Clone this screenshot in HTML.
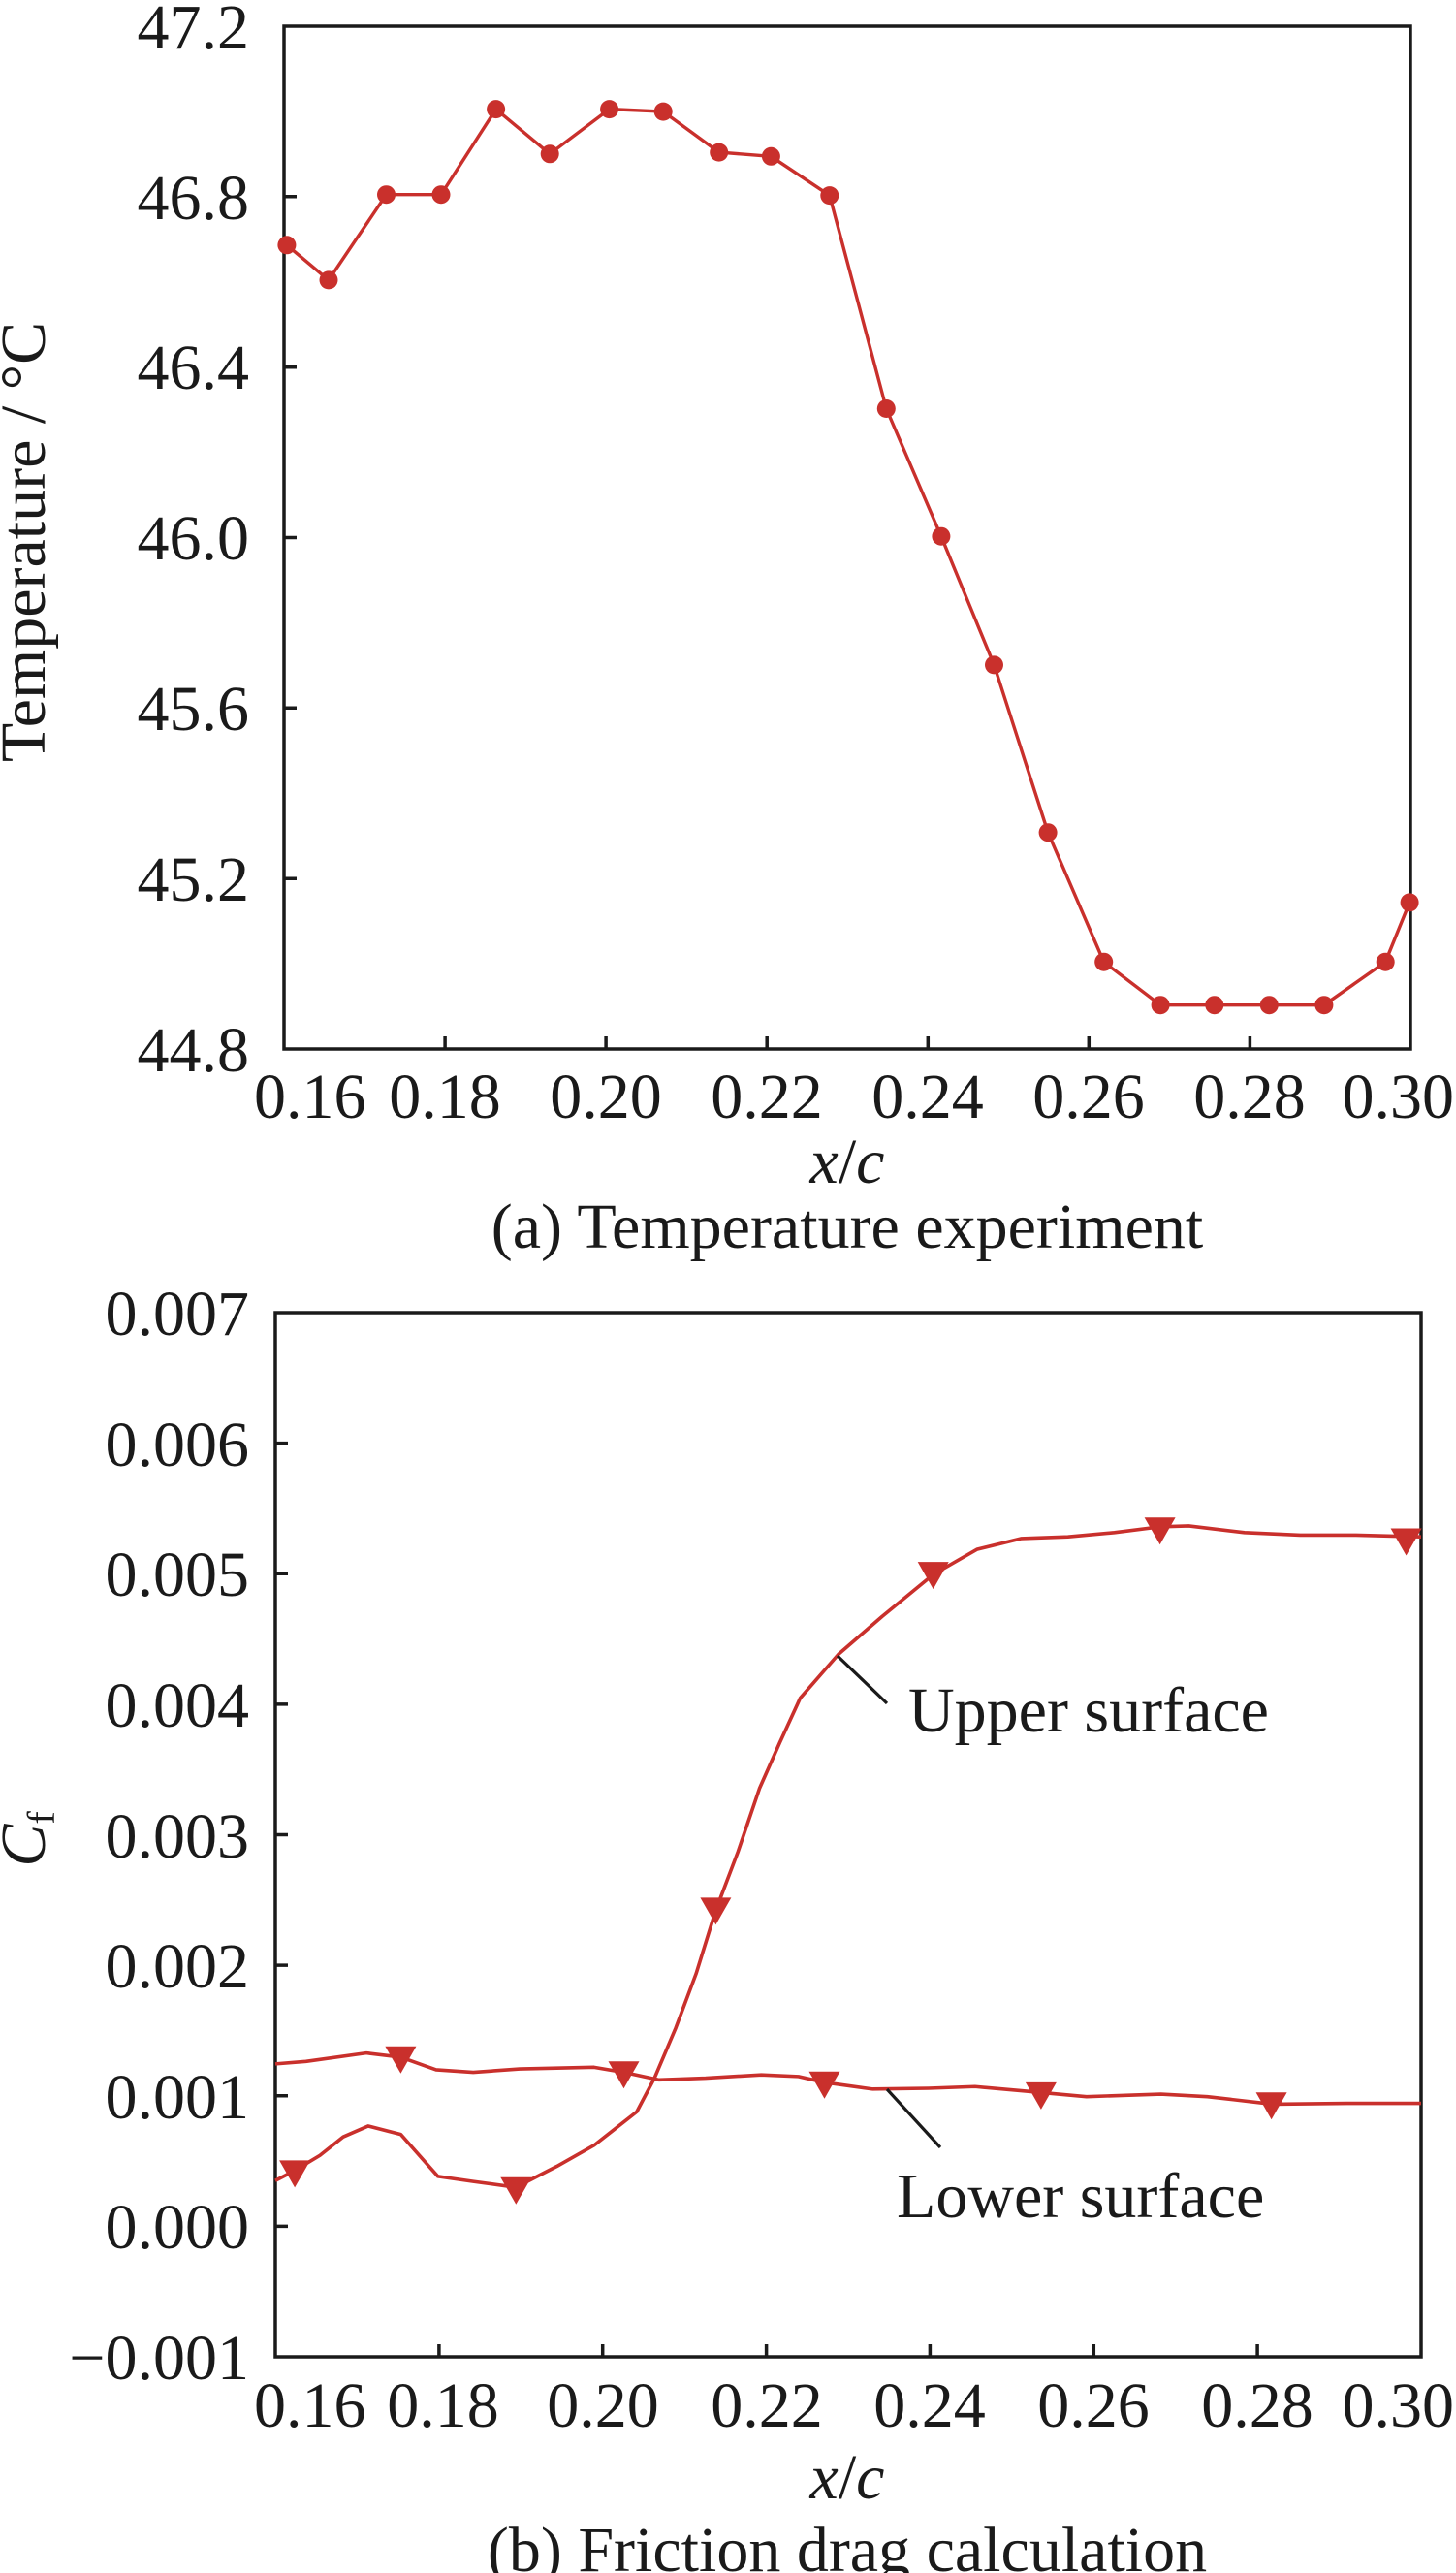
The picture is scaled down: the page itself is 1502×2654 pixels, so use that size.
<!DOCTYPE html>
<html><head><meta charset="utf-8"><style>
html,body{margin:0;padding:0;background:#fff;}
svg{display:block;}
text{font-family:"Liberation Serif",serif;fill:#1a1a1a;font-size:66px;}
</style></head><body>
<svg width="1502" height="2654" viewBox="0 0 1502 2654" xmlns="http://www.w3.org/2000/svg">
<!-- ========== (a) ========== -->
<g stroke="#1a1a1a" stroke-width="3.5" fill="none">
<rect x="293" y="27" width="1162" height="1055"/>
<path d="M293 906.2h13M293 730.3h13M293 554.5h13M293 378.7h13M293 202.8h13"/>
<path d="M459.1 1082v-13M625.1 1082v-13M791.2 1082v-13M957.3 1082v-13M1123.3 1082v-13M1289.4 1082v-13"/>
</g>
<g text-anchor="end">
<text x="257" y="1105">44.8</text>
<text x="257" y="929">45.2</text>
<text x="257" y="753">45.6</text>
<text x="257" y="577">46.0</text>
<text x="257" y="401">46.4</text>
<text x="257" y="226">46.8</text>
<text x="257" y="50">47.2</text>
</g>
<text x="262" y="1153">0.16</text>
<text x="1500" y="1153" text-anchor="end">0.30</text>
<g text-anchor="middle">
<text x="459" y="1153">0.18</text>
<text x="625" y="1153">0.20</text>
<text x="791" y="1153">0.22</text>
<text x="957" y="1153">0.24</text>
<text x="1123" y="1153">0.26</text>
<text x="1289" y="1153">0.28</text>
<text x="874" y="1220"><tspan font-style="italic">x</tspan>/<tspan font-style="italic">c</tspan></text>
<text x="874" y="1287">(a) Temperature experiment</text>
</g>
<text transform="translate(46,559) rotate(-90)" text-anchor="middle" font-size="64">Temperature / °C</text>
<polyline fill="none" stroke="#c9302c" stroke-width="3.4" stroke-linejoin="round" points="295.9,252.8 339.0,288.9 398.5,200.7 455.0,200.7 511.6,112.6 567.2,158.8 628.6,112.6 684.2,115.1 741.7,157.1 795.4,161.3 855.8,201.6 914.3,421.5 970.9,553.2 1025.5,685.9 1081.1,858.7 1138.7,992.2 1197.1,1036.7 1252.8,1036.7 1309.3,1036.7 1365.9,1036.7 1429.2,992.2 1454.1,930.9"/>
<g fill="#c9302c">
<circle cx="295.9" cy="252.8" r="9.5"/><circle cx="339.0" cy="288.9" r="9.5"/><circle cx="398.5" cy="200.7" r="9.5"/><circle cx="455.0" cy="200.7" r="9.5"/><circle cx="511.6" cy="112.6" r="9.5"/><circle cx="567.2" cy="158.8" r="9.5"/><circle cx="628.6" cy="112.6" r="9.5"/><circle cx="684.2" cy="115.1" r="9.5"/><circle cx="741.7" cy="157.1" r="9.5"/><circle cx="795.4" cy="161.3" r="9.5"/><circle cx="855.8" cy="201.6" r="9.5"/><circle cx="914.3" cy="421.5" r="9.5"/><circle cx="970.9" cy="553.2" r="9.5"/><circle cx="1025.5" cy="685.9" r="9.5"/><circle cx="1081.1" cy="858.7" r="9.5"/><circle cx="1138.7" cy="992.2" r="9.5"/><circle cx="1197.1" cy="1036.7" r="9.5"/><circle cx="1252.8" cy="1036.7" r="9.5"/><circle cx="1309.3" cy="1036.7" r="9.5"/><circle cx="1365.9" cy="1036.7" r="9.5"/><circle cx="1429.2" cy="992.2" r="9.5"/><circle cx="1454.1" cy="930.9" r="9.5"/>
</g>

<!-- ========== (b) ========== -->
<g stroke="#1a1a1a" stroke-width="3.5" fill="none">
<rect x="284" y="1354" width="1182" height="1077"/>
<path d="M284 1488.6h13M284 1623.3h13M284 1757.9h13M284 1892.5h13M284 2027.1h13M284 2161.8h13M284 2296.4h13"/>
<path d="M452.9 2431v-13M621.7 2431v-13M790.6 2431v-13M959.4 2431v-13M1128.3 2431v-13M1297.1 2431v-13"/>
</g>
<g text-anchor="end">
<text x="257" y="2454">−0.001</text>
<text x="257" y="2319">0.000</text>
<text x="257" y="2185">0.001</text>
<text x="257" y="2050">0.002</text>
<text x="257" y="1916">0.003</text>
<text x="257" y="1781">0.004</text>
<text x="257" y="1646">0.005</text>
<text x="257" y="1512">0.006</text>
<text x="257" y="1377">0.007</text>
</g>
<text x="262" y="2503">0.16</text>
<text x="1500" y="2503" text-anchor="end">0.30</text>
<g text-anchor="middle">
<text x="457" y="2503">0.18</text>
<text x="622" y="2503">0.20</text>
<text x="791" y="2503">0.22</text>
<text x="959" y="2503">0.24</text>
<text x="1128" y="2503">0.26</text>
<text x="1297" y="2503">0.28</text>
<text x="874" y="2577"><tspan font-style="italic">x</tspan>/<tspan font-style="italic">c</tspan></text>
<text x="874" y="2652">(b) Friction drag calculation</text>
</g>
<text transform="translate(46,1897) rotate(-90)" text-anchor="middle"><tspan font-style="italic">C</tspan><tspan font-size="40" dy="10">f</tspan></text>

<g transform="translate(-0.70,1299.45) scale(0.9586,0.8658)" fill="none" stroke="#c9302c" stroke-width="3.6" stroke-linejoin="round">
<polyline vector-effect="non-scaling-stroke" points="297,1097 318,1085 345,1067 370,1045 397,1032 432,1042 472,1092 510,1098 556,1105 600,1080 640,1055 686,1015 705,975 728,915 750,850 771,775 795,705 818,630 840,575 862,522 903,470 950,425 1005,375 1052,345 1100,332 1150,330 1200,325 1250,318 1280,317 1340,325 1400,328 1460,328 1530,330"/>
<polyline vector-effect="non-scaling-stroke" points="297,958 330,955 395,945 432,950 470,965 510,968 560,964 640,962 672,968 710,977 760,975 820,971 860,973 888,980 940,988 1000,987 1050,985 1100,990 1170,997 1250,994 1300,997 1370,1006 1450,1005 1530,1005"/>
</g>
<defs><path id="tri" d="M-16,-13 L16,-13 L0,15 Z" fill="#c9302c"/></defs>
<use href="#tri" x="304.1" y="2241.4"/>
<use href="#tri" x="532.3" y="2258.8"/>
<use href="#tri" x="738.4" y="1970.4"/>
<use href="#tri" x="962.7" y="1624.1"/>
<use href="#tri" x="1196.6" y="1578.2"/>
<use href="#tri" x="1450.6" y="1589.5"/>
<use href="#tri" x="413.4" y="2123.7"/>
<use href="#tri" x="643.5" y="2139.3"/>
<use href="#tri" x="850.5" y="2149.7"/>
<use href="#tri" x="1073.9" y="2160.9"/>
<use href="#tri" x="1311.6" y="2171.3"/>

<g stroke="#1a1a1a" stroke-width="3.2">
<line x1="864" y1="1708" x2="915" y2="1757"/>
<line x1="915" y1="2155" x2="970" y2="2215"/>
</g>
<text x="937" y="1786">Upper surface</text>
<text x="925" y="2287">Lower surface</text>
</svg>
</body></html>
